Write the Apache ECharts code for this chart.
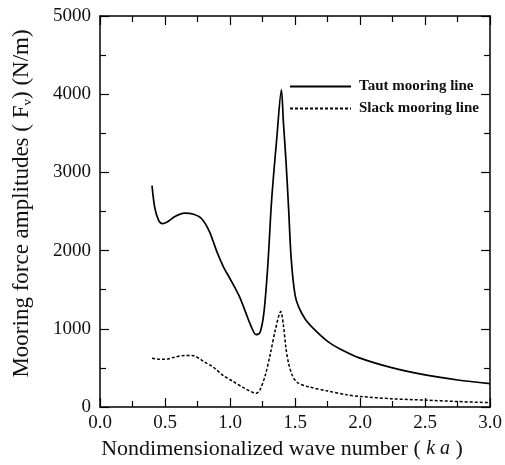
<!DOCTYPE html>
<html>
<head>
<meta charset="utf-8">
<script src="https://cdn.jsdelivr.net/npm/echarts@6/dist/echarts.min.js"></script>
<style>html,body{margin:0;padding:0;background:#fff}#c{width:505px;height:465px}</style>
</head>
<body>
<div id="c"></div>
<script>
// ---- data ----
const kaTaut = [0.40,0.42,0.45,0.48,0.52,0.58,0.65,0.72,0.78,0.84,0.90,0.95,1.00,1.07,1.12,1.16,1.20,1.23,1.26,1.29,1.32,1.36,1.395,1.41,1.43,1.45,1.47,1.50,1.53,1.58,1.65,1.75,1.85,2.00,2.25,2.50,2.75,3.00];
const taut   = [2830,2560,2390,2345,2370,2440,2480,2465,2410,2250,1980,1790,1640,1420,1210,1040,925,950,1200,1800,2650,3450,4055,3650,3150,2550,1900,1430,1270,1120,990,840,740,625,500,410,345,300];
const kaSlack = [0.40,0.45,0.50,0.57,0.65,0.72,0.80,0.87,0.95,1.02,1.10,1.17,1.20,1.23,1.27,1.31,1.35,1.39,1.41,1.43,1.45,1.48,1.52,1.60,1.75,1.90,2.00,2.25,2.50,2.75,3.00];
const slack   = [623,612,610,635,660,655,580,510,400,330,250,190,175,220,400,680,1000,1220,1050,750,560,400,310,260,205,155,135,105,88,70,55];
const seriesNames = ['Taut mooring line','Slack mooring line'];
const xTitle = 'Nondimensionalized wave number';
const yTitle = 'Mooring force amplitudes';

const FONT = '"Liberation Serif","DejaVu Serif",serif';
const pairs = (xs, ys) => xs.map((x, i) => [x, ys[i]]);
const axisCommon = {
  axisLine: {show: true, onZero: false, lineStyle: {color: '#000', width: 1.5}},
  splitLine: {show: false}
};
const tick = {show: true, inside: true, length: 9, lineStyle: {color: '#000', width: 1.2}};
const minor = {show: true, splitNumber: 2, length: 6, lineStyle: {color: '#000', width: 1.2}};
const chart = echarts.init(document.getElementById('c'), null, {renderer: 'canvas'});
chart.setOption({
  animation: false,
  backgroundColor: '#fff',
  grid: {left: 100, right: 13, top: 16, bottom: 58},
  legend: {
    orient: 'vertical', left: 289, top: 79, padding: 0,
    itemWidth: 61, itemHeight: 14, itemGap: 7,
    itemStyle: {opacity: 0},
    textStyle: {fontFamily: FONT, fontSize: 15, fontWeight: 'bold', color: '#111', padding: [0,0,0,3]},
    data: seriesNames
  },
  xAxis: [
    Object.assign({}, axisCommon, {
      type: 'value', min: 0, max: 3, interval: 0.5, position: 'bottom',
      axisTick: tick, minorTick: minor,
      axisLabel: {color: '#111', fontFamily: FONT, fontSize: 19, margin: 7, formatter: v => v.toFixed(1)},
      name: xTitle + ' ( {i|k a} )', nameLocation: 'middle', nameGap: 30,
      nameTextStyle: {fontFamily: FONT, fontSize: 22, color: '#111', padding: [0, 26, 0, 0],
        rich: {i: {fontFamily: FONT, fontSize: 20, fontStyle: 'italic', color: '#111'}}}
    }),
    Object.assign({}, axisCommon, {
      type: 'value', min: 0, max: 3, interval: 0.5, position: 'top',
      axisTick: tick, minorTick: minor, axisLabel: {show: false}
    })
  ],
  yAxis: [
    Object.assign({}, axisCommon, {
      type: 'value', min: 0, max: 5000, interval: 1000, position: 'left',
      axisTick: tick, minorTick: minor,
      axisLabel: {color: '#111', fontFamily: FONT, fontSize: 19, margin: 9, formatter: v => String(v)},
      name: yTitle + ' ( F{s|v}) (N/m)', nameLocation: 'middle', nameGap: 66, nameRotate: 90,
      nameTextStyle: {fontFamily: FONT, fontSize: 23, color: '#111', padding: [0, 0, 0, 16],
        rich: {s: {fontFamily: FONT, fontSize: 13, color: '#111', verticalAlign: 'bottom', padding: [12,0,0,0]}}}
    }),
    Object.assign({}, axisCommon, {
      type: 'value', min: 0, max: 5000, interval: 1000, position: 'right',
      axisTick: tick, minorTick: minor, axisLabel: {show: false}
    })
  ],
  series: [
    {name: seriesNames[0], type: 'line', data: pairs(kaTaut, taut), symbol: 'none', smooth: 0.3,
     lineStyle: {color: '#000', width: 1.7, type: 'solid'}, itemStyle: {color: '#000'}},
    {name: seriesNames[1], type: 'line', data: pairs(kaSlack, slack), symbol: 'none', smooth: 0.3,
     lineStyle: {color: '#000', width: 1.5, type: [3, 2]}, itemStyle: {color: '#000'}}
  ]
});
</script>
</body>
</html>
